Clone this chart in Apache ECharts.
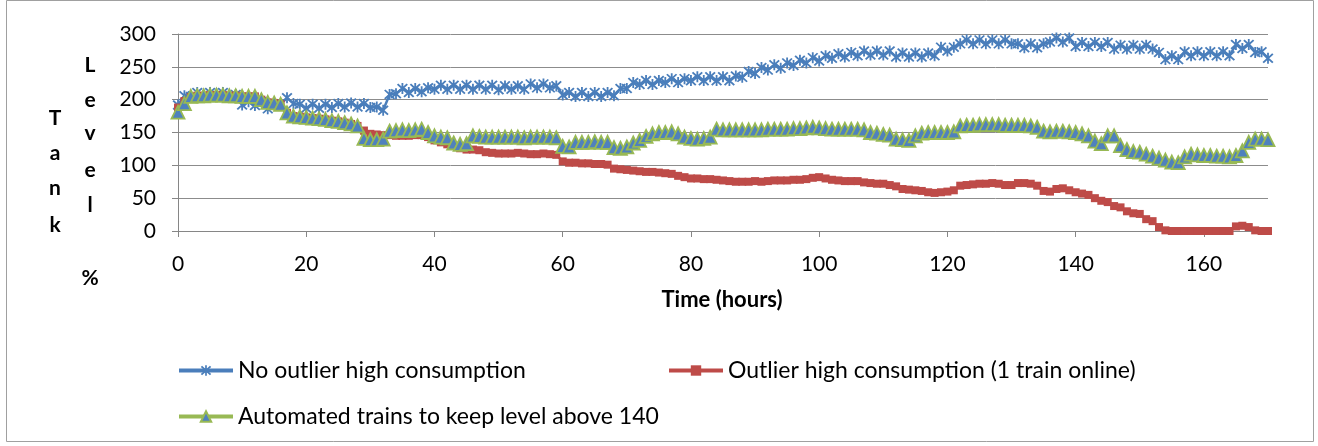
<!DOCTYPE html>
<html><head><meta charset="utf-8">
<script src="https://cdn.jsdelivr.net/npm/echarts@6/dist/echarts.min.js"></script>
<style>html,body{margin:0;padding:0;background:#fff}#c{width:1318px;height:446px}</style>
</head><body><div id="c"></div>
<script>
// x categories: hours 0..170
const hours = Array.from({length: 171}, (_, i) => String(i));
const yTicks = [0, 50, 100, 150, 200, 250, 300];
const seriesNames = ['No outlier high consumption', 'Outlier high consumption (1 train online)', 'Automated trains to keep level above 140'];

const noOutlier = [
 192,206,205,211,205,211,205,211,205,208,
 192,197,191,197,186,193,193,203,194,193,
 187,193,187,193,188,194,189,195,189,194,
 188,189,184,208,209,217,211,217,212,218,
 216,222,216,222,216,222,216,222,216,222,
 215,221,216,221,216,224,218,224,218,221,
 207,211,205,211,205,211,205,211,206,217,
 217,226,223,229,223,229,226,232,226,232,
 229,235,229,235,229,235,229,236,234,243,
 240,249,245,253,248,256,252,260,256,264,
 259,267,263,270,265,272,267,274,268,274,
 268,274,265,271,265,271,265,271,267,280,
 274,280,285,291,285,291,285,291,285,291,
 285,285,279,285,279,285,288,294,288,294,
 281,287,281,287,281,287,277,283,277,283,
 277,283,277,272,261,267,261,273,267,273,
 267,273,267,273,267,284,278,284,272,273,
 263];

const outlier = [
 188,198,204,206,206,207,207,207,206,206,
 205,205,205,200,196,195,193,180,175,174,
 173,172,171,170,168,167,165,163,160,153,
 148,147,146,146,145,145,145,146,146,143,
 138,135,132,130,126,124,124,123,120,119,
 118,118,118,119,118,117,117,118,117,116,
 106,104,104,103,103,102,102,101,95,94,
 93,92,91,90,90,89,88,87,84,82,
 80,80,79,79,78,77,76,75,75,75,
 76,75,76,77,77,77,78,78,79,81,
 82,80,78,77,76,76,76,74,73,72,
 72,70,68,64,63,62,61,59,58,59,
 60,62,69,70,71,72,72,73,72,70,
 70,73,73,72,69,61,60,64,65,62,
 59,57,55,50,46,44,38,36,30,27,
 26,18,15,6,1,0,0,0,0,0,
 0,0,0,0,0,7,8,6,1,0,
 0];

const automated = [
 181,194,205,206,206,207,207,207,206,206,
 205,205,205,200,196,195,193,180,175,174,
 173,172,171,170,168,167,165,163,160,141,
 139,139,140,152,153,154,153,154,155,150,
 145,143,142,134,132,133,145,144,143,143,
 143,143,143,143,142,143,143,143,143,142,
 129,128,135,135,135,136,135,135,127,126,
 128,134,138,144,148,150,150,151,148,143,
 141,140,141,143,155,154,154,154,154,154,
 154,154,155,155,155,155,156,156,157,158,
 157,156,155,155,155,155,155,154,150,149,
 147,146,140,139,138,145,149,150,150,150,
 150,151,160,161,161,162,162,162,162,161,
 161,161,161,160,158,152,151,152,152,151,
 150,148,145,137,133,145,145,130,124,121,
 120,117,114,111,108,105,104,113,117,116,
 115,115,114,114,113,115,122,135,140,140,
 139];

const FONT = 'Lato';
const starPath = 'path://M8.5,0L11.5,0L11.5,20L8.5,20Z M0.9,3.1L3.1,0.9L19.1,16.9L16.9,19.1Z M16.9,0.9L19.1,3.1L3.1,19.1L0.9,16.9Z';

const chart = echarts.init(document.getElementById('c'), null, {renderer: 'canvas'});

const letters = [];
const LF = 'bold 21px ' + FONT;
['T','a','n','k'].forEach((ch, i) => letters.push({type:'text', x:55, y:[118,153,188,225][i], style:{text:ch, font:LF, fill:'#000', align:'center', verticalAlign:'middle'}}));
['L','e','v','e','l'].forEach((ch, i) => letters.push({type:'text', x:90, y:[65,100,133,170,205][i], style:{text:ch, font:LF, fill:'#000', align:'center', verticalAlign:'middle'}}));
letters.push({type:'text', x:90, y:278, style:{text:'%', font:LF, fill:'#000', align:'center', verticalAlign:'middle'}});
letters.push({type:'text', x:722, y:300, style:{text:'Time (hours)', font:'bold 22px ' + FONT, fill:'#000', align:'center', verticalAlign:'middle'}});

const legendBase = {
  orient: 'horizontal', padding: 0, itemWidth: 54, itemHeight: 13, itemGap: 10,
  lineStyle: {width: 4},
  textStyle: {fontFamily: FONT, fontSize: 23, color: '#000'}
};

chart.setOption({
  animation: false,
  backgroundColor: '#fff',
  textStyle: {fontFamily: FONT},
  grid: {left: 178, right: 50, top: 34, bottom: 215, containLabel: false},
  graphic: [
    {type:'rect', shape:{x:6.5, y:0.5, width:1307, height:441}, style:{fill:'none', stroke:'#a0a0a0', lineWidth:1}, z:-10},
    ...letters
  ],
  legend: [
    Object.assign({}, legendBase, {left: 177, top: 359, data: [seriesNames[0]]}),
    Object.assign({}, legendBase, {left: 667, top: 359, data: [seriesNames[1]]}),
    Object.assign({}, legendBase, {left: 177, top: 405, data: [seriesNames[2]]})
  ],
  xAxis: {
    type: 'category', data: hours, boundaryGap: false,
    axisLine: {lineStyle: {color: '#868686', width: 1}},
    axisTick: {show: true, interval: 19, length: 6, lineStyle: {color: '#868686'}},
    axisLabel: {interval: 19, fontSize: 21, color: '#000', fontFamily: FONT, margin: 23},
    splitLine: {show: false}
  },
  yAxis: {
    type: 'value', min: yTicks[0], max: yTicks[yTicks.length - 1], interval: 50,
    axisLine: {show: true, lineStyle: {color: '#868686', width: 1}},
    axisTick: {show: true, length: 6, lineStyle: {color: '#868686'}},
    axisLabel: {fontSize: 21, color: '#000', fontFamily: FONT, margin: 22},
    splitLine: {show: true, lineStyle: {color: '#8c8c8c', width: 1}}
  },
  series: [
    {name: seriesNames[0], type: 'line', data: noOutlier, showAllSymbol: true,
     symbol: starPath, symbolSize: 11,
     lineStyle: {color: '#4A7EBB', width: 2.5},
     itemStyle: {color: '#4A7EBB', borderWidth: 0}},
    {name: seriesNames[1], type: 'line', data: outlier, showAllSymbol: true,
     symbol: 'rect', symbolSize: 8,
     lineStyle: {color: '#BE4B48', width: 2.5},
     itemStyle: {color: '#BE4B48', borderWidth: 0}},
    {name: seriesNames[2], type: 'line', data: automated, showAllSymbol: true,
     symbol: 'triangle', symbolSize: 13,
     lineStyle: {color: '#98B954', width: 2.5},
     itemStyle: {color: '#4F81BD', borderColor: '#98B954', borderWidth: 1.8}}
  ]
});
</script>
</body></html>
